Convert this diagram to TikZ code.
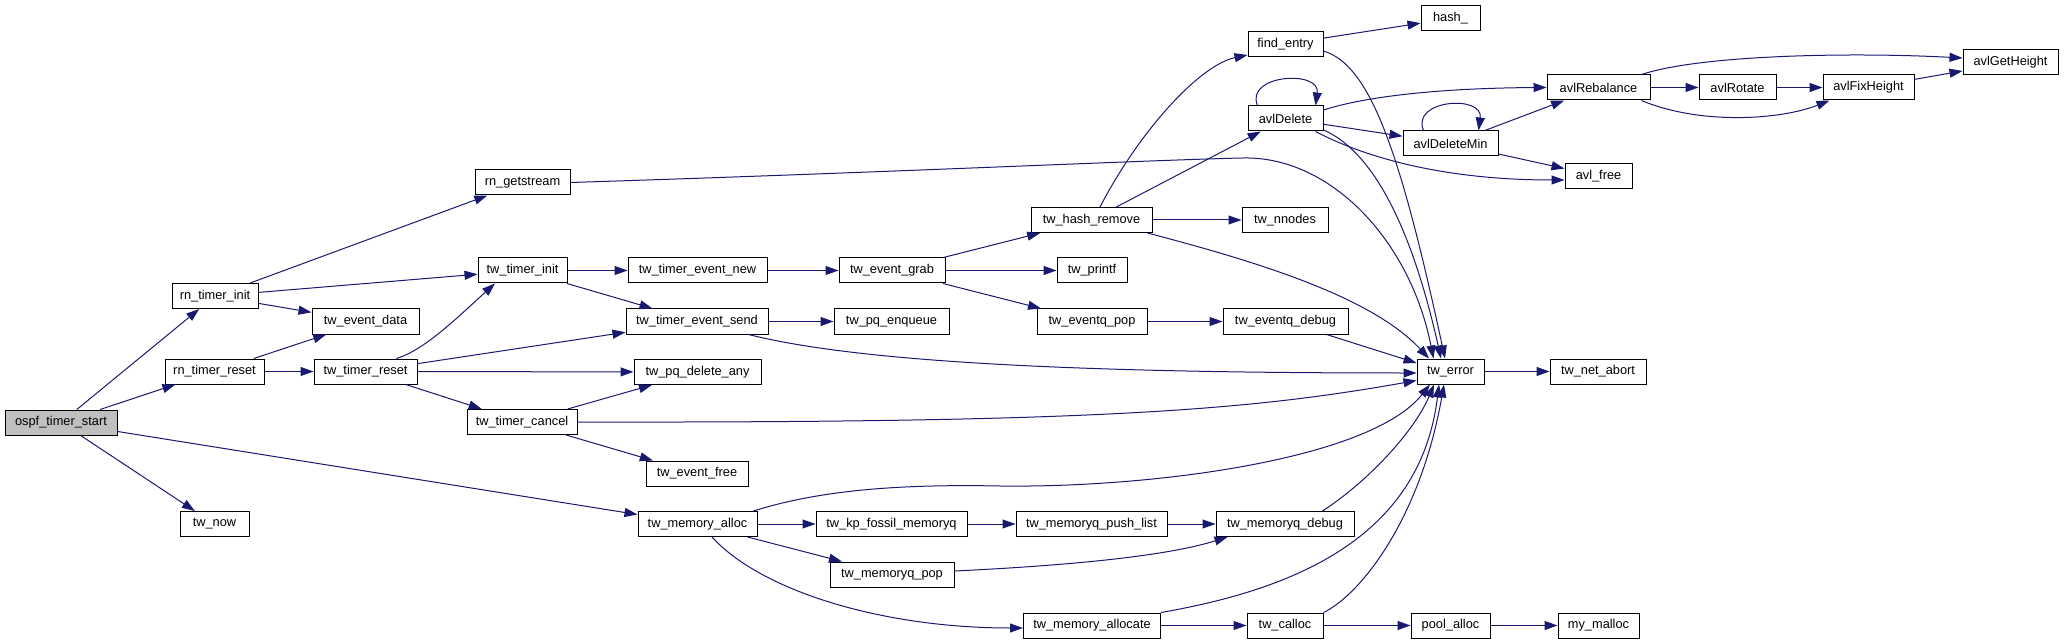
\documentclass[tikz,border=0pt]{standalone}
\usepackage{fontspec}
\setmainfont{Liberation Sans}
\usetikzlibrary{arrows.meta}
\definecolor{edgeblue}{RGB}{25,25,112}

\begin{document}
\begin{tikzpicture}[
  x=1pt, y=1pt,
  font=\fontsize{12.8}{14}\selectfont,
  %% --- styles ---
  fn/.style={draw=black, fill=white, line width=1pt, inner sep=0pt, minimum height=25pt},
  root/.style={fn, fill=gray!50},
  call/.style={-{Triangle[length=13pt, width=9pt]}, edgeblue, line width=1pt}
]
  \useasboundingbox (0,0) rectangle (2064,-644);

  %% --- 1. caller and first level ---
  \node[root, minimum width=112] (OspfTimerStart) at (61,-422.5) {ospf\_timer\_start};
  \node[fn, minimum width=86] (RnTimerInit) at (215,-296) {rn\_timer\_init};
  \node[fn, minimum width=99] (RnTimerReset) at (214.5,-371.5) {rn\_timer\_reset};
  \node[fn, minimum width=69] (TwNow) at (214.5,-524) {tw\_now};

  %% --- 2. second level ---
  \node[fn, minimum width=95] (RnGetstream) at (522.5,-182.5) {rn\_getstream};
  \node[fn, minimum width=107] (TwEventData) at (365.5,-321.5) {tw\_event\_data};
  \node[fn, minimum width=103] (TwTimerReset) at (365.5,-371.5) {tw\_timer\_reset};
  \node[fn, minimum width=89] (TwTimerInit) at (522.5,-270.5) {tw\_timer\_init};
  \node[fn, minimum width=110] (TwTimerCancel) at (522,-422) {tw\_timer\_cancel};

  %% --- 3. timer events and memory ---
  \node[fn, minimum width=139] (TwTimerEventNew) at (697.5,-270.5) {tw\_timer\_event\_new};
  \node[fn, minimum width=142] (TwTimerEventSend) at (697,-321.5) {tw\_timer\_event\_send};
  \node[fn, minimum width=127] (TwPqDeleteAny) at (697.5,-372) {tw\_pq\_delete\_any};
  \node[fn, minimum width=102] (TwEventFree) at (697,-473.5) {tw\_event\_free};
  \node[fn, minimum width=119] (TwMemoryAlloc) at (697.5,-524) {tw\_memory\_alloc};

  \node[fn, minimum width=106] (TwEventGrab) at (892,-270.5) {tw\_event\_grab};
  \node[fn, minimum width=115] (TwPqEnqueue) at (891.5,-321.5) {tw\_pq\_enqueue};
  \node[fn, minimum width=151] (TwKpFossilMemoryq) at (891.5,-524) {tw\_kp\_fossil\_memoryq};
  \node[fn, minimum width=124] (TwMemoryqPop) at (892,-574.5) {tw\_memoryq\_pop};

  \node[fn, minimum width=121] (TwHashRemove) at (1091.5,-220) {tw\_hash\_remove};
  \node[fn, minimum width=70] (TwPrintf) at (1092,-270.5) {tw\_printf};
  \node[fn, minimum width=110] (TwEventqPop) at (1092,-321.5) {tw\_eventq\_pop};
  \node[fn, minimum width=151] (TwMemoryqPushList) at (1091.5,-524) {tw\_memoryq\_push\_list};
  \node[fn, minimum width=137] (TwMemoryAllocate) at (1092,-625.5) {tw\_memory\_allocate};

  \node[fn, minimum width=75] (FindEntry) at (1285.5,-44) {find\_entry};
  \node[fn, minimum width=75] (AvlDelete) at (1285.5,-118.5) {avlDelete};
  \node[fn, minimum width=86] (TwNnodes) at (1285,-220) {tw\_nnodes};
  \node[fn, minimum width=125] (TwEventqDebug) at (1285.5,-321.5) {tw\_eventq\_debug};
  \node[fn, minimum width=138] (TwMemoryqDebug) at (1285,-524) {tw\_memoryq\_debug};
  \node[fn, minimum width=76] (TwCalloc) at (1285,-625.5) {tw\_calloc};

  %% --- 4. leaves on the right ---
  \node[fn, minimum width=59] (Hash) at (1450.5,-18.5) {hash\_};
  \node[fn, minimum width=95] (AvlDeleteMin) at (1450.5,-143.5) {avlDeleteMin};
  \node[fn, minimum width=67] (TwError) at (1450.5,-371.5) {tw\_error};
  \node[fn, minimum width=79] (PoolAlloc) at (1450.5,-625.5) {pool\_alloc};

  \node[fn, minimum width=103] (AvlRebalance) at (1598.5,-87.5) {avlRebalance};
  \node[fn, minimum width=67] (AvlFree) at (1598.5,-176) {avl\_free};
  \node[fn, minimum width=96] (TwNetAbort) at (1598,-371.5) {tw\_net\_abort};
  \node[fn, minimum width=81] (MyMalloc) at (1598.5,-625.5) {my\_malloc};

  \node[fn, minimum width=77] (AvlRotate) at (1737.5,-87.5) {avlRotate};
  \node[fn, minimum width=91] (AvlFixHeight) at (1868.5,-87.5) {avlFixHeight};
  \node[fn, minimum width=95] (AvlGetHeight) at (2010.5,-62.5) {avlGetHeight};

  %% --- calls: left part ---
  \draw[call] (OspfTimerStart) -- (RnTimerInit);
  \draw[call] (OspfTimerStart) -- (RnTimerReset);
  \draw[call] (OspfTimerStart) -- (TwNow);
  \draw[call] (OspfTimerStart) -- (TwMemoryAlloc);

  \draw[call] (RnTimerInit) -- (RnGetstream);
  \draw[call] (RnTimerInit) -- (TwTimerInit);
  \draw[call] (RnTimerInit) -- (TwEventData);
  \draw[call] (RnTimerReset) -- (TwEventData);
  \draw[call] (RnTimerReset) -- (TwTimerReset);

  \draw[call] ([xshift=-21pt]TwTimerReset.north east) .. controls (425,-350) and (460,-315) .. ([xshift=17.5pt]TwTimerInit.south west);
  \draw[call] (TwTimerReset) -- (TwTimerEventSend);
  \draw[call] (TwTimerReset) -- (TwPqDeleteAny);
  \draw[call] (TwTimerReset) -- (TwTimerCancel);

  \draw[call] (TwTimerInit) -- (TwTimerEventNew);
  \draw[call] (TwTimerInit) -- (TwTimerEventSend);
  \draw[call] (TwTimerCancel) -- (TwPqDeleteAny);
  \draw[call] (TwTimerCancel) -- (TwEventFree);

  %% --- calls: middle part ---
  \draw[call] (TwTimerEventNew) -- (TwEventGrab);
  \draw[call] (TwTimerEventSend) -- (TwPqEnqueue);
  \draw[call] (TwEventGrab) -- (TwHashRemove);
  \draw[call] (TwEventGrab) -- (TwPrintf);
  \draw[call] (TwEventGrab) -- (TwEventqPop);
  \draw[call] (TwEventqPop) -- (TwEventqDebug);

  \draw[call] (TwMemoryAlloc) -- (TwKpFossilMemoryq);
  \draw[call] (TwMemoryAlloc) -- (TwMemoryqPop);
  \draw[call] ([xshift=14.5pt]TwMemoryAlloc.south) .. controls (760,-590) and (880,-628) .. ([yshift=-2.5pt]TwMemoryAllocate.west);
  \draw[call] (TwKpFossilMemoryq) -- (TwMemoryqPushList);
  \draw[call] (TwMemoryqPushList) -- (TwMemoryqDebug);
  \draw[call] ([yshift=3.5pt]TwMemoryqPop.east) .. controls (1080,-565) and (1170,-555) .. ([xshift=12pt]TwMemoryqDebug.south west);
  \draw[call] (TwMemoryAllocate) -- (TwCalloc);
  \draw[call] (TwCalloc) -- (PoolAlloc);
  \draw[call] (PoolAlloc) -- (MyMalloc);

  %% --- calls: hash and avl tree ---
  \draw[call] ([xshift=8.5pt]TwHashRemove.north) .. controls (1140,-130) and (1200,-65) .. ([yshift=-11pt]FindEntry.west);
  \draw[call] (TwHashRemove) -- (AvlDelete);
  \draw[call] (TwHashRemove) -- (TwNnodes);
  \draw[call] (FindEntry) -- (Hash);

  \draw[call] ([xshift=10pt]AvlDelete.north west) .. controls +(-13,31) and +(5,36) .. ([xshift=-8pt]AvlDelete.north east);
  \draw[call] ([yshift=8.5pt]AvlDelete.east) .. controls (1370,-95) and (1450,-88) .. (AvlRebalance.west);
  \draw[call] (AvlDelete) -- (AvlDeleteMin);
  \draw[call] ([xshift=-8pt]AvlDelete.south east) .. controls (1370,-160) and (1450,-180) .. ([yshift=-4pt]AvlFree.west);

  \draw[call] ([xshift=21pt]AvlDeleteMin.north west) .. controls +(-13,31) and +(5,36) .. ([xshift=-20pt]AvlDeleteMin.north east);
  \draw[call] (AvlDeleteMin) -- (AvlRebalance);
  \draw[call] (AvlDeleteMin) -- (AvlFree);

  \draw[call] ([xshift=-9pt]AvlRebalance.north east) .. controls (1700,-55) and (1850,-52) .. ([yshift=4.5pt]AvlGetHeight.west);
  \draw[call] (AvlRebalance) -- (AvlRotate);
  \draw[call] ([xshift=-9pt]AvlRebalance.south east) .. controls (1700,-125) and (1780,-120) .. ([xshift=7pt]AvlFixHeight.south west);
  \draw[call] (AvlRotate) -- (AvlFixHeight);
  \draw[call] (AvlFixHeight) -- (AvlGetHeight);

  %% --- calls into tw_error ---
  \draw[call] ([yshift=-7pt]FindEntry.east) .. controls (1370,-65) and (1400,-150) .. ([xshift=-5.5pt]TwError.north);
  \draw[call] ([yshift=-11.5pt]AvlDelete.east) .. controls (1370,-150) and (1410,-220) .. ([xshift=-9.5pt]TwError.north);
  \draw[call] (RnGetstream.east) .. controls (900,-172) and (1150,-160) .. (1243,-158) .. controls (1330,-156) and (1410,-240) .. ([xshift=-17pt]TwError.north);
  \draw[call] ([xshift=-5pt]TwHashRemove.south east) .. controls (1250,-260) and (1370,-295) .. ([xshift=-21.5pt]TwError.north);
  \draw[call] (TwEventqDebug) -- ([yshift=8.5pt]TwError.west);
  \draw[call] ([xshift=-20pt]TwTimerEventSend.south east) .. controls (850,-360) and (1050,-373) .. ([yshift=-1.5pt]TwError.west);
  \draw[call] (TwTimerCancel.east) .. controls (1100,-423) and (1250,-410) .. ([yshift=-9pt]TwError.west);
  \draw[call] ([xshift=-4pt]TwMemoryAlloc.north east) .. controls (820,-490) and (900,-484) .. (1000,-486) .. controls (1150,-488) and (1370,-460) .. ([xshift=-20.5pt]TwError.south);
  \draw[call] ([xshift=-32pt]TwMemoryqDebug.north east) .. controls (1370,-480) and (1415,-430) .. ([xshift=-16.5pt]TwError.south);
  \draw[call] (TwMemoryAllocate.north east) .. controls (1290,-590) and (1420,-540) .. ([xshift=-11.5pt]TwError.south);
  \draw[call] (TwCalloc.north east) .. controls (1360,-595) and (1420,-520) .. ([xshift=-6.5pt]TwError.south);
  \draw[call] (TwError) -- (TwNetAbort);

\end{tikzpicture}
\end{document}
